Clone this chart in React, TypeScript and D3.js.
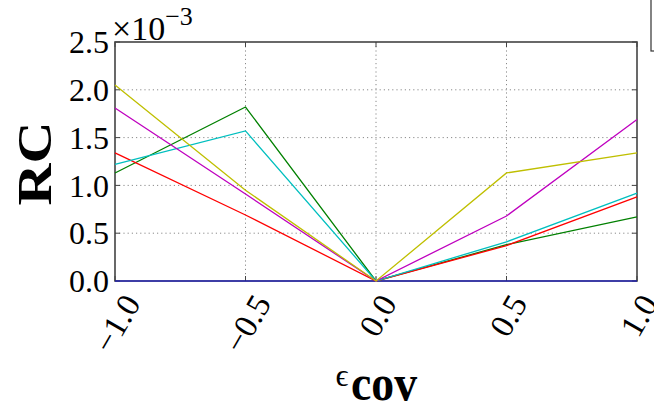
import React from "react";
import * as d3 from "d3";

const epsValues = [-1.0, -0.5, 0.0, 0.5, 1.0];
const seriesColors = ["#0000ff", "#008000", "#ff0000", "#00bfbf", "#bf00bf", "#bfbf00"];
const blueRC = [0, 0, 0, 0, 0];
const greenRC = [1.13, 1.82, 0, 0.38, 0.67];
const redRC = [1.34, 0.69, 0, 0.37, 0.88];
const cyanRC = [1.22, 1.57, 0, 0.41, 0.92];
const magentaRC = [1.81, 0.91, 0, 0.68, 1.69];
const yellowRC = [2.05, 0.95, 0, 1.13, 1.34];
const xTicks = [-1.0, -0.5, 0.0, 0.5, 1.0];
const yTicks = [0, 0.5, 1.0, 1.5, 2.0, 2.5];

const W = 654,
  H = 412;
const margin = { left: 115, right: 17, top: 42, bottom: 131 };
const serif = "'Liberation Serif', 'DejaVu Serif', serif";

const fmt = (v) => (v < 0 ? "\u2212" : "") + Math.abs(v).toFixed(1);

const App = () => {
  const svgRef = React.useRef(null);

  React.useEffect(() => {
    const svg = d3.select(svgRef.current);
    svg.selectAll("*").remove();

    const x = d3.scaleLinear().domain([-1, 1]).range([margin.left, W - margin.right]);
    const y = d3.scaleLinear().domain([0, 2.5]).range([H - margin.bottom, margin.top]);
    const x0 = x.range()[0], x1 = x.range()[1];
    const yb = y.range()[0], yt = y.range()[1];

    svg.append("rect").attr("width", W).attr("height", H).attr("fill", "white");

    // grid
    const grid = svg.append("g").attr("stroke", "#8a8a8a").attr("stroke-width", 1).attr("stroke-dasharray", "1.2,3");
    xTicks.slice(1, -1).forEach((t) => {
      grid.append("line").attr("x1", x(t)).attr("x2", x(t)).attr("y1", yt).attr("y2", yb);
    });
    yTicks.slice(1, -1).forEach((t) => {
      grid.append("line").attr("x1", x0).attr("x2", x1).attr("y1", y(t)).attr("y2", y(t));
    });

    // spines
    svg
      .append("rect")
      .attr("x", x0)
      .attr("y", yt)
      .attr("width", x1 - x0)
      .attr("height", yb - yt)
      .attr("fill", "none")
      .attr("stroke", "#444")
      .attr("stroke-width", 1.6);

    // inner ticks on all sides
    const tk = svg.append("g").attr("stroke", "#444").attr("stroke-width", 1);
    yTicks.forEach((t) => {
      tk.append("line").attr("x1", x0).attr("x2", x0 + 5).attr("y1", y(t)).attr("y2", y(t));
      tk.append("line").attr("x1", x1).attr("x2", x1 - 5).attr("y1", y(t)).attr("y2", y(t));
    });
    xTicks.forEach((t) => {
      tk.append("line").attr("x1", x(t)).attr("x2", x(t)).attr("y1", yb).attr("y2", yb - 5);
      tk.append("line").attr("x1", x(t)).attr("x2", x(t)).attr("y1", yt).attr("y2", yt + 5);
    });

    // series
    const line = d3
      .line()
      .x((d) => x(d[0]))
      .y((d) => y(d[1]));
    const allSeries = [blueRC, greenRC, redRC, cyanRC, magentaRC, yellowRC];
    allSeries.forEach((vals, i) => {
      svg
        .append("path")
        .attr("d", line(epsValues.map((e, j) => [e, vals[j]])))
        .attr("fill", "none")
        .attr("stroke", seriesColors[i])
        .attr("stroke-opacity", i === 0 ? 0.55 : 1)
        .attr("stroke-width", 1.3);
    });

    // y tick labels
    yTicks.forEach((t) => {
      svg
        .append("text")
        .attr("x", x0 - 6)
        .attr("y", y(t))
        .attr("dy", "0.35em")
        .attr("text-anchor", "end")
        .attr("font-family", serif)
        .attr("font-size", 32)
        .text(t.toFixed(1));
    });

    // x tick labels, rotated 60 deg, bbox centred on tick
    const fs = 33;
    xTicks.forEach((t) => {
      const txt = svg
        .append("text")
        .attr("text-anchor", "middle")
        .attr("dominant-baseline", "central")
        .attr("font-family", serif)
        .attr("font-size", fs)
        .text(fmt(t));
      const L = txt.node().getComputedTextLength();
      const a = (60 * Math.PI) / 180;
      const bh = L * Math.sin(a) + fs * 0.7 * Math.cos(a);
      const cy = yb + 11 + bh / 2;
      txt.attr("transform", `translate(${x(t) + 2},${cy}) rotate(-60)`);
    });

    // offset text
    const off = svg
      .append("text")
      .attr("x", x0 - 3)
      .attr("y", 40)
      .attr("font-family", serif)
      .attr("font-size", 34);
    off.append("tspan").text("\u00d710");
    off.append("tspan").attr("dy", -15).attr("font-size", 26).text("\u22123");

    // y label
    svg
      .append("text")
      .attr("transform", `translate(51,${(yt + yb) / 2 + 2}) rotate(-90)`)
      .attr("text-anchor", "middle")
      .attr("font-family", serif)
      .attr("font-weight", "bold")
      .attr("font-size", 48)
      .attr("textLength", 84)
      .attr("lengthAdjust", "spacingAndGlyphs")
      .text("RC");

    // x label
    svg
      .append("text")
      .attr("x", 342)
      .attr("y", 386)
      .attr("text-anchor", "middle")
      .attr("font-family", serif)
      .attr("font-size", 32)
      .text("\u03f5");
    svg
      .append("text")
      .attr("x", 384)
      .attr("y", 400)
      .attr("text-anchor", "middle")
      .attr("font-family", serif)
      .attr("font-weight", "bold")
      .attr("font-size", 50)
      .attr("textLength", 66)
      .attr("lengthAdjust", "spacingAndGlyphs")
      .text("cov");

    // clipped legend frame at right edge
    svg
      .append("rect")
      .attr("x", 651)
      .attr("y", -4)
      .attr("width", 30)
      .attr("height", 55)
      .attr("fill", "white")
      .attr("stroke", "#333")
      .attr("stroke-width", 1.2);
  }, []);

  return (
    <div style={{ position: "fixed", left: 0, top: 0 }}>
      <svg ref={svgRef} width={W} height={H} style={{ display: "block" }} />
    </div>
  );
};

export default App;
